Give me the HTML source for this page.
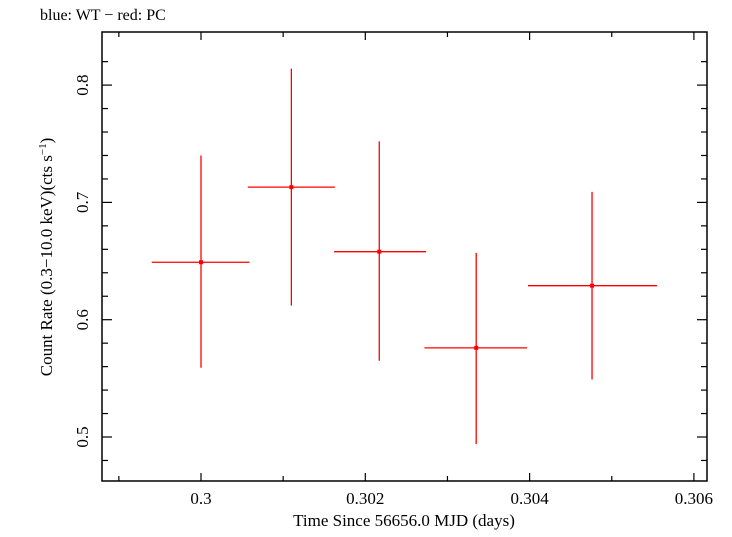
<!DOCTYPE html>
<html><head><meta charset="utf-8"><style>
body{margin:0;background:#fff;width:732px;height:532px;overflow:hidden}
text{font-family:"Liberation Serif",serif;fill:#000}
</style></head><body>
<svg id="chart" width="732" height="532" xmlns="http://www.w3.org/2000/svg">
<text x="40" y="20" font-size="16">blue: WT − red: PC</text>
<rect x="102" y="32" width="605" height="449" fill="none" stroke="#000" stroke-width="1.5"/>
<g id="axes"></g>
<g id="marks"></g>
<text x="404" y="526" font-size="17" text-anchor="middle">Time Since 56656.0 MJD (days)</text>
<text transform="translate(52,257) rotate(-90)" font-size="17" text-anchor="middle">Count Rate (0.3−10.0 keV)(cts s<tspan font-size="11" dy="-6">−1</tspan><tspan dy="6">)</tspan></text>
</svg>
<script>
const times=[0.30000,0.30110,0.30217,0.30335,0.30476];
const timeLo=[0.29940,0.30057,0.30162,0.30272,0.30398];
const timeHi=[0.30059,0.30163,0.30274,0.30397,0.30555];
const rates=[0.649,0.713,0.658,0.576,0.629];
const rateLo=[0.559,0.612,0.565,0.494,0.549];
const rateHi=[0.740,0.814,0.752,0.657,0.709];
const xTicks=[0.3,0.302,0.304,0.306];
const xTickLabels=["0.3","0.302","0.304","0.306"];
const yTicks=[0.5,0.6,0.7,0.8];
const yTickLabels=["0.5","0.6","0.7","0.8"];
const X=v=>201+(v-0.3)*82150;
const Y=v=>437-(v-0.5)*1173;
const NS="http://www.w3.org/2000/svg";
const axes=document.getElementById('axes'),marks=document.getElementById('marks');
function ln(p,x1,y1,x2,y2,c,w){const l=document.createElementNS(NS,'line');l.setAttribute('x1',x1);l.setAttribute('y1',y1);l.setAttribute('x2',x2);l.setAttribute('y2',y2);l.setAttribute('stroke',c);l.setAttribute('stroke-width',w);p.appendChild(l);return l;}
for(let v=0.299;v<=0.3065;v+=0.001){const x=X(v);const major=Math.abs(Math.round(v*1000)%2)===0;const L=major?8:5;
let a=ln(axes,x,481,x,481-L,'#000',1.2);
let b=ln(axes,x,32,x,32+L,'#000',1.2);}
for(let i=0;i<=18;i++){const v=0.46+i*0.02;const y=Y(v);if(y<33||y>480)continue;const major=i%5===2;const L=major?10:6;
let a=ln(axes,102,y,102+L,y,'#000',1.2);
let b=ln(axes,707,y,707-L,y,'#000',1.2);}
xTicks.forEach((v,i)=>{const t=document.createElementNS(NS,'text');t.setAttribute('x',X(v));t.setAttribute('y',504);t.setAttribute('font-size','17');t.setAttribute('text-anchor','middle');t.textContent=xTickLabels[i];


axes.appendChild(t);});
yTicks.forEach((v,i)=>{const t=document.createElementNS(NS,'text');t.setAttribute('transform','translate(88,'+Y(v)+') rotate(-90)');t.setAttribute('font-size','17');t.setAttribute('text-anchor','middle');t.textContent=yTickLabels[i];


axes.appendChild(t);});
times.forEach((t,i)=>{const g=document.createElementNS(NS,'g');


ln(g,X(timeLo[i]),Y(rates[i]),X(timeHi[i]),Y(rates[i]),'#f00',1.3);
ln(g,X(t),Y(rateLo[i]),X(t),Y(rateHi[i]),'#f00',1.3);
const c=document.createElementNS(NS,'rect');c.setAttribute('x',X(t)-2);c.setAttribute('y',Y(rates[i])-2);c.setAttribute('width',4);c.setAttribute('height',4);c.setAttribute('fill','#f00');g.appendChild(c);
marks.appendChild(g);});
</script>
</body></html>
